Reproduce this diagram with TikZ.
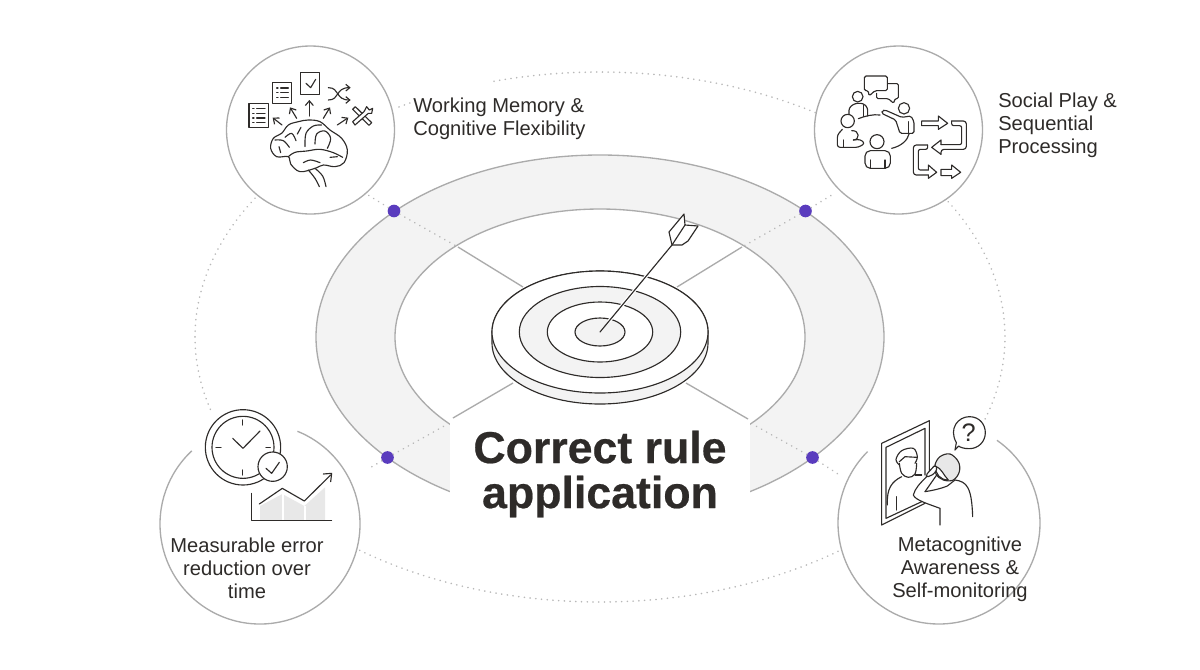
\documentclass[tikz,border=0pt]{standalone}
\usepackage{fontspec}
\setmainfont{Liberation Sans}
\newfontfamily\titlefont[FakeBold=0.5]{Liberation Sans Bold}
\usetikzlibrary{calc,arrows.meta}
\definecolor{ink}{HTML}{2E2B29}
\definecolor{ringgray}{HTML}{F3F3F3}
\definecolor{edgegray}{HTML}{ABABAB}
\definecolor{dotgray}{HTML}{B8B8B8}
\definecolor{purpledot}{HTML}{5A3CBE}
\definecolor{barshade}{HTML}{E8E8E8}
\newcommand{\dotarc}[2]{\draw[dotline] plot[domain=#1:#2,samples=90,smooth] ({600+405*cos(\x)},{337-265*sin(\x)});}
\tikzset{
  edge/.style={draw=edgegray,line width=1pt},
  dotline/.style={draw=dotgray,line width=1.25pt,line cap=round,dash pattern=on 0.1pt off 4.2pt},
  spoke/.style={draw=edgegray,line width=1pt},
  icon/.style={draw=ink,line width=0.85pt,line cap=round,line join=round},
  bigcircle/.style={circle,draw=edgegray,line width=1pt,fill=white,minimum size=126pt,inner sep=0pt},
  pdot/.style={circle,fill=purpledot,minimum size=9.5pt,inner sep=0pt},
  label/.style={text=ink,font=\fontsize{15.1}{17.2}\selectfont,inner sep=0pt},
  zoomA/.style={shift={(220,50)},x=0.25pt,y=-0.25pt},
  zoomB/.style={shift={(805,60)},x=0.25pt,y=-0.25pt},
  zoomC/.style={shift={(160,400)},x=0.25pt,y=-0.25pt},
  zoomD/.style={shift={(860,400)},x=0.25pt,y=-0.25pt},
}
\begin{document}
\begin{tikzpicture}[x=0.75pt,y=-0.75pt]
\useasboundingbox[fill=white] (0,0) rectangle (1200,669);
% ring
\fill[ringgray,even odd rule] (600,337) ellipse [x radius=284,y radius=182] (600,337) ellipse [x radius=205,y radius=128];
\draw[edge] (600,337) ellipse [x radius=284,y radius=182];
\draw[edge] (600,337) ellipse [x radius=205,y radius=128];
% dotted orbit
\dotarc{57.9}{105.8}
\dotarc{118}{120.5}
\dotarc{148.4}{196}
\dotarc{233.6}{306.4}
\dotarc{-18}{31.6}
% named points
\coordinate (i1) at (458,247);
\coordinate (i2) at (742,247);
\coordinate (t1) at (523,287);
\coordinate (t2) at (677,287);
\coordinate (t3) at (513,383);
\coordinate (t4) at (686,383);
\coordinate (s3) at (453,418);
\coordinate (s4) at (748,419);
\coordinate (e3) at (446,425);
\coordinate (e4) at (754,425);
\coordinate (o3) at (368,469);
\coordinate (o4) at (838,474);
% title mask
\fill[white] (450,412) rectangle (750,535);
\draw[spoke] (i1) -- (t1);
\draw[spoke] (i2) -- (t2);
\draw[spoke] (s3) -- (t3);
\draw[spoke] (s4) -- (t4);
\node[pdot] (d1) at (394,211) {};
\node[pdot] (d2) at (805.5,211) {};
\node[pdot] (d3) at (387.5,457.5) {};
\node[pdot] (d4) at (812.5,457.5) {};
\draw[dotline] (d1) -- (i1);
\draw[dotline] (d2) -- (i2);
\draw[dotline] (d3) -- (e3);
\draw[dotline] (d4) -- (e4);
\draw[dotline] (d3) -- (o3);
\draw[dotline] (d4) -- (o4);
\node[text=ink,font=\fontsize{33.5}{33.75}\selectfont\titlefont,align=center,inner sep=0pt] (title) at (600,474) {Correct rule\\application};
% target
\path[fill=ringgray,draw=ink,line width=0.85pt] (492,332) -- (492,343) arc[start angle=180,end angle=0,x radius=108,y radius=61] -- (708,332) arc[start angle=0,end angle=-180,x radius=108,y radius=61] -- cycle;
\filldraw[fill=white,draw=ink,line width=0.85pt] (600,332) ellipse [x radius=108,y radius=61];
\filldraw[fill=ringgray,draw=ink,line width=0.85pt] (600,332) ellipse [x radius=80.7,y radius=45.5];
\filldraw[fill=white,draw=ink,line width=0.85pt] (600,332) ellipse [x radius=52.7,y radius=30];
\filldraw[fill=ringgray,draw=ink,line width=0.85pt] (600,332) ellipse [x radius=25,y radius=14];
\coordinate (tip) at (600,332);
\coordinate (nock) at (672,245);
\draw[white,line width=2.6pt] ($(tip)!0.12!(nock)$) -- (nock);
\draw[icon] (tip) -- (nock);
\filldraw[icon,fill=white] (672,245) -- (669,232) -- (684,214) -- (685,225) -- (698,226) -- (688,241) -- (682,245) -- cycle;
\draw[icon] (672,245) -- (685,225);
% circles
\node[bigcircle] (tl) at (310.5,130) {};
\node[bigcircle] (tr) at (898.5,130) {};
\draw[dotline] (d1) -- (368,195);
\draw[dotline] (d2) -- (835,193);
\fill[white] (260,524) circle [radius=100];
\fill[white] (939,523) circle [radius=101];
\draw[edge] (260,524) ++(-68:100) arc[start angle=-68,end angle=227,radius=100];
\draw[edge] (939,523) ++(-55:101) arc[start angle=-55,end angle=225,radius=101];
% ---- labels
\node[label,align=left,anchor=west] (wm) at (413,118.5) {Working Memory \&\\Cognitive Flexibility};
\node[label,align=left,anchor=west] (sp) at (998,125.5) {Social Play \&\\Sequential\\Processing};
\node[label,align=center] (me) at (247,568) {Measurable error\\reduction over\\time};
\node[label,align=center] (ma) at (960,569) {Metacognitive\\Awareness \&\\Self-monitoring};
% ---- brain icon
\begin{scope}[zoomA]
\draw[icon] plot[smooth cycle,tension=.6] coordinates {(265,210)(300,215)(330,240)(365,265)(382,300)(372,338)(345,350)(310,345)(285,355)(240,365)(212,342)(205,320)(170,320)(152,295)(160,265)(185,250)(205,225)(235,215)};
\draw[icon] plot[smooth,tension=.6] coordinates {(255,290)(258,250)(280,228)(305,225)};
\draw[icon] plot[smooth,tension=.6] coordinates {(285,282)(290,252)(315,243)(332,265)(322,295)};
\draw[icon] plot[smooth,tension=.6] coordinates {(205,320)(225,307)(260,303)(300,298)(340,308)(368,322)};
\draw[icon] plot[smooth,tension=.6] coordinates {(250,338)(272,330)(300,338)};
\draw[icon] plot[smooth,tension=.6] coordinates {(165,270)(190,272)(208,292)};
\draw[icon] plot[smooth,tension=.6] coordinates {(195,262)(215,250)(228,272)};
\draw[icon] plot[smooth,tension=.6] coordinates {(232,252)(243,232)};
\draw[icon] plot[smooth,tension=.6] coordinates {(177,290)(182,308)};
\draw[icon] plot[smooth,tension=.6] coordinates {(330,322)(352,320)};
\draw[icon] plot[smooth,tension=.6] coordinates {(265,360)(285,385)(298,410)};
\draw[icon] plot[smooth,tension=.6] coordinates {(285,355)(308,378)(318,410)};
\draw[icon] (87,161) rectangle (145,232);
\draw[icon] (158,98) rectangle (214,160);
\draw[icon] (242,68) rectangle (299,134);
\draw[icon] (258,100) -- (272,113) -- (287,88);
\foreach \yy in {176,190,204,217}{\draw[icon] (98,\yy) -- (102,\yy); \draw[icon] (110,\yy) -- (135,\yy);}
\foreach \yy in {114,128,142}{\draw[icon] (170,\yy) -- (174,\yy); \draw[icon] (182,\yy) -- (205,\yy);}
\foreach \pa/\pb/\pc/\pd in {186/225/158/203,230/205/210/172,268/198/268/150,310/205/330/172,352/225/385/203}{\draw[icon,-{Straight Barb[length=3.5pt,width=6pt]}] (\pa,\pb) -- (\pc,\pd);}
\draw[icon,-{Straight Barb[length=3pt,width=5pt]}] (325,113) .. controls (360,113) and (345,150) .. (392,150);
\draw[icon,-{Straight Barb[length=3pt,width=5pt]}] (325,150) .. controls (360,150) and (345,113) .. (392,113);
\draw[icon,fill=white] (398,178) -- (406,170) -- (455,218) -- (447,226) -- cycle;
\draw[icon,fill=white] (398,215) -- (405,225) -- (445,190) -- (455,190) -- (458,175) -- (448,180) -- (440,170) -- (432,185) -- cycle;
\end{scope}
% ---- people icon
\begin{scope}[zoomB]
\draw[icon,rounded corners=1.2pt] (178,48) -- (247,48) -- (247,92) -- (210,92) -- (192,108) -- (190,92) -- (178,92) -- cycle;
\draw[icon,rounded corners=1pt] (250,71) -- (280,71) -- (280,116) -- (270,116) -- (266,130) -- (250,116) -- (215,116) -- (215,100);
\draw[icon] (158,110) circle [radius=16];
\draw[icon,rounded corners=2pt] (132,165) -- (132,143) -- (150,130) -- (175,130) -- (188,143) -- (188,168);
\draw[icon] (175,135) -- (175,170);
\draw[icon,fill=white] (128,183) circle [radius=20];
\draw[icon,rounded corners=2pt] (112,208) -- (97,225) -- (97,262) -- (160,262) -- (180,250) -- (165,238) -- (145,240);
\draw[icon] (140,212) .. controls (165,210) and (165,240) .. (145,240);
\draw[icon] (115,240) -- (115,262);
\draw[icon] (297,145) circle [radius=17];
\draw[icon,rounded corners=1.2pt] (232,152) -- (240,150) -- (290,172) -- (318,168) -- (327,185) -- (327,220) -- (285,220) -- (272,180) -- (230,160) -- cycle;
\draw[icon] (310,185) -- (310,220);
\draw[icon] (216,245) circle [radius=21];
\draw[icon,rounded corners=4pt] (180,325) -- (180,272) -- (256,272) -- (256,325) -- cycle;
\draw[icon] (196,300) -- (196,325);
\draw[icon] (240,300) -- (240,325);
\draw[icon] (160,176) .. controls (180,168) and (205,162) .. (225,165);
\draw[icon] (260,265) .. controls (290,258) and (308,240) .. (312,222);
\draw[icon] (350,183) -- (400,183) -- (400,168) -- (428,190) -- (400,208) -- (400,197) -- (350,197) -- cycle;
\draw[icon,rounded corners=2.2pt] (440,183) -- (484,183) -- (484,268) -- (408,268) -- (408,283);
\draw[icon] (408,283) -- (380,262) -- (408,240) -- (408,254);
\draw[icon,rounded corners=1.5pt] (408,254) -- (470,254) -- (470,197) -- (440,197) -- (440,183);
\draw[icon,rounded corners=2.2pt] (368,255) -- (325,255) -- (325,345) -- (370,345);
\draw[icon] (370,345) -- (370,355) -- (395,337) -- (370,315) -- (370,330);
\draw[icon,rounded corners=1.5pt] (370,330) -- (340,330) -- (340,268) -- (368,268) -- (368,255);
\draw[icon] (408,328) -- (440,328) -- (440,315) -- (467,337) -- (440,355) -- (440,347) -- (408,347) -- cycle;
\end{scope}
% ---- clock icon
\begin{scope}[zoomC]
\fill[barshade] (300,318) -- (367,282) -- (433,318) -- (495,262) -- (495,360) -- (300,360) -- cycle;
\draw[white,line width=0.8pt] (369,282) -- (369,360);
\draw[white,line width=0.8pt] (435,318) -- (435,360);
\draw[icon] (275,280) -- (275,362) -- (515,362);
\draw[icon] (298,312) -- (367,265) -- (433,303) -- (512,225);
\draw[icon] (490,222) -- (515,220) -- (512,245);
\draw[icon] (249,142) circle [radius=113];
\draw[icon] (249,142) circle [radius=93];
\draw[icon] (248,60) -- (248,75);
\draw[icon] (248,210) -- (248,225);
\draw[icon] (168,142) -- (183,142);
\draw[icon] (318,142) -- (331,142);
\draw[icon] (218,115) -- (249,145) -- (300,93);
\filldraw[icon,fill=white] (338,200) circle [radius=44];
\draw[icon] (318,205) -- (335,220) -- (358,187);
\end{scope}
% ---- mirror icon
\begin{scope}[zoomD]
\draw[icon] (208,215) -- (208,62) -- (65,130) -- (65,375) -- (195,310);
\draw[icon] (195,225) -- (195,85) -- (78,142) -- (78,355) -- (185,305);
\draw[icon] plot[smooth,tension=.6] coordinates {(118,195)(108,178)(125,152)(160,145)(172,170)(165,190)};
\draw[icon] plot[smooth,tension=.6] coordinates {(118,190)(125,220)(145,232)(165,222)(170,190)};
\draw[icon] (118,185) -- (135,170) -- (170,172);
\draw[icon] (82,315) .. controls (80,265) and (95,245) .. (125,230);
\draw[icon] (165,225) -- (185,225);
\draw[icon] (110,290) -- (110,330);
\filldraw[icon,fill=barshade] plot[smooth cycle,tension=.6] coordinates {(225,195)(240,170)(270,162)(295,185)(298,215)(280,240)(250,240)(228,222)};
\draw[icon,fill=white] (226,198) .. controls (226,222) and (240,240) .. (265,240) .. controls (250,225) and (245,205) .. (226,198);
\draw[icon,fill=white,rounded corners=1.2pt] (198,225) -- (225,195) -- (232,205) -- (222,222) -- (200,232) -- cycle;
\draw[icon] (200,230) .. controls (180,250) and (165,265) .. (160,285) .. controls (165,300) and (205,312) .. (240,325) -- (240,375);
\draw[icon] (195,275) -- (230,225);
\draw[icon] (195,275) .. controls (225,270) and (245,265) .. (262,258) -- (285,240);
\draw[icon] (285,240) .. controls (320,245) and (335,260) .. (338,350);
\draw[icon] (285,150) -- (289,128) .. controls (265,85) and (295,50) .. (328,50) .. controls (360,50) and (376,75) .. (376,98) .. controls (376,125) and (355,146) .. (328,146) .. controls (312,146) and (300,142) .. (296,138) -- cycle;
\node[text=ink,font=\fontsize{19}{19}\selectfont,inner sep=0pt] (qm) at (326,98) {?};
\end{scope}
\end{tikzpicture}
\end{document}
